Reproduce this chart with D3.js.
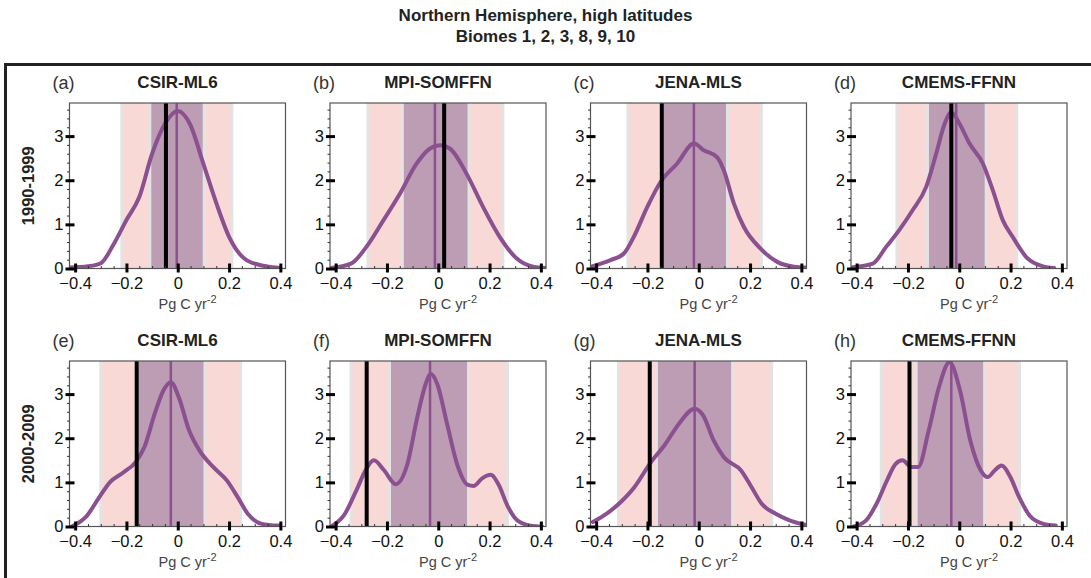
<!DOCTYPE html>
<html>
<head>
<meta charset="utf-8">
<script src="https://cdn.jsdelivr.net/npm/d3@7"></script>
<style>
  body { margin: 0; background: #fff; }
  svg { display: block; font-family: "Liberation Sans", Arial, Helvetica, sans-serif; }
</style>
</head>
<body>
<svg id="chart" width="1091" height="578"></svg>
<script>
const models = ["CSIR-ML6", "MPI-SOMFFN", "JENA-MLS", "CMEMS-FFNN"];
const periods = ["1990-1999", "2000-2009"];
const panelLetters = ["a", "b", "c", "d", "e", "f", "g", "h"];
const xTicks = [-0.4, -0.2, 0, 0.2, 0.4];
const yTicks = [0, 1, 2, 3];

// panels a..h : outer (pink) and inner (purple) ranges
const outerRange = [
  [-0.218, 0.211], [-0.274, 0.252], [-0.276, 0.244], [-0.243, 0.224],
  [-0.300, 0.245], [-0.340, 0.270], [-0.313, 0.284], [-0.304, 0.235]
];
const innerRange = [
  [-0.109, 0.103], [-0.140, 0.120], [-0.142, 0.112], [-0.124, 0.105],
  [-0.158, 0.106], [-0.190, 0.118], [-0.165, 0.132], [-0.168, 0.099]
];
// thick black line
const observed = [-0.046, 0.023, -0.144, -0.031, -0.160, -0.279, -0.191, -0.194];
// thin purple line
const medians = [-0.004, -0.013, -0.019, -0.012, -0.027, -0.032, -0.016, -0.031];

// density curves, [x, density]
const densityA = [[-0.42, 0.02], [-0.35, 0.05], [-0.30, 0.12], [-0.25, 0.55], [-0.20, 1.1], [-0.15, 1.62],
  [-0.10, 2.6], [-0.05, 3.28], [0.0, 3.57], [0.047, 3.28], [0.10, 2.37], [0.151, 1.47], [0.203, 0.68],
  [0.268, 0.19], [0.344, 0.05], [0.40, 0.01]];
const densityB = [[-0.42, 0.01], [-0.34, 0.11], [-0.28, 0.49], [-0.214, 1.09], [-0.149, 1.7], [-0.084, 2.38],
  [-0.032, 2.72], [0.007, 2.79], [0.045, 2.72], [0.11, 2.15], [0.175, 1.39], [0.24, 0.71], [0.305, 0.23],
  [0.37, 0.04], [0.42, 0.01]];
const densityC = [[-0.42, 0.04], [-0.344, 0.19], [-0.292, 0.34], [-0.253, 0.72], [-0.201, 1.39], [-0.149, 1.96],
  [-0.084, 2.38], [-0.019, 2.83], [0.02, 2.68], [0.072, 2.52], [0.098, 2.22], [0.137, 1.47], [0.176, 0.94],
  [0.241, 0.45], [0.306, 0.15], [0.371, 0.04], [0.42, 0.02]];
const densityD = [[-0.415, 0.03], [-0.337, 0.11], [-0.285, 0.49], [-0.234, 0.87], [-0.182, 1.32], [-0.129, 1.85],
  [-0.09, 2.6], [-0.057, 3.28], [-0.031, 3.54], [0.001, 3.28], [0.04, 2.83], [0.092, 2.38], [0.131, 1.77],
  [0.17, 1.09], [0.209, 0.71], [0.261, 0.26], [0.326, 0.05], [0.37, 0.01]];
const densityE = [[-0.413, 0.0], [-0.359, 0.21], [-0.305, 0.67], [-0.265, 1.0], [-0.211, 1.23], [-0.164, 1.46],
  [-0.13, 1.8], [-0.09, 2.55], [-0.056, 3.08], [-0.027, 3.27], [0.004, 2.93], [0.044, 2.18], [0.085, 1.72],
  [0.138, 1.35], [0.192, 1.04], [0.233, 0.67], [0.273, 0.29], [0.327, 0.06], [0.394, 0.02]];
const densityF = [[-0.417, 0.0], [-0.368, 0.25], [-0.316, 0.86], [-0.283, 1.28], [-0.251, 1.5], [-0.212, 1.28],
  [-0.166, 0.96], [-0.121, 1.4], [-0.082, 2.47], [-0.049, 3.23], [-0.03, 3.46], [-0.004, 3.23], [0.035, 2.31],
  [0.074, 1.4], [0.113, 0.95], [0.139, 0.92], [0.171, 1.09], [0.204, 1.17], [0.236, 0.94], [0.269, 0.48],
  [0.308, 0.14], [0.36, 0.02], [0.405, 0.0]];
const densityG = [[-0.413, 0.1], [-0.359, 0.29], [-0.305, 0.55], [-0.251, 0.89], [-0.191, 1.42], [-0.13, 1.87],
  [-0.077, 2.33], [-0.016, 2.67], [0.017, 2.52], [0.058, 1.95], [0.098, 1.57], [0.165, 1.27], [0.206, 0.89],
  [0.246, 0.51], [0.30, 0.29], [0.354, 0.14], [0.414, 0.04]];
const densityH = [[-0.411, 0.0], [-0.363, 0.14], [-0.323, 0.51], [-0.282, 1.04], [-0.248, 1.42], [-0.221, 1.5],
  [-0.187, 1.35], [-0.16, 1.35], [-0.119, 2.18], [-0.079, 3.16], [-0.038, 3.72], [0.003, 3.08], [0.043, 1.95],
  [0.084, 1.27], [0.111, 1.12], [0.138, 1.27], [0.165, 1.38], [0.199, 1.12], [0.233, 0.67], [0.274, 0.25],
  [0.328, 0.06], [0.376, 0.02]];
const densities = [densityA, densityB, densityC, densityD, densityE, densityF, densityG, densityH];

(function () {
  const svg = d3.select("#chart");

  const plotW = 216;
  const plotH = 165.5;
  const colX = (i) => 69.5 + i * 260.5;
  const rowY = (j) => 103 + j * 258;

  const purple = "#8b5090";
  const pink = "#f8d9d6";
  const mauve = "#bc9db3";
  const edge = "#e3e3e3";

  const x = d3.scaleLinear().domain([-0.422, 0.42]).range([0, plotW]);
  const y = d3.scaleLinear().domain([0, 3.75]).range([plotH, 0]);

  const line = d3
    .line()
    .x((d) => x(d[0]))
    .y((d) => y(d[1]))
    .curve(d3.curveMonotoneX);

  // title
  svg
    .append("text")
    .attr("x", 545.5)
    .attr("y", 21)
    .attr("text-anchor", "middle")
    .attr("style", "font-size: 17px; font-weight: 700; fill: #222;")
    .text("Northern Hemisphere, high latitudes");
  svg
    .append("text")
    .attr("x", 545.5)
    .attr("y", 42)
    .attr("text-anchor", "middle")
    .attr("style", "font-size: 17px; font-weight: 700; fill: #222;")
    .text("Biomes 1, 2, 3, 8, 9, 10");

  // frame
  svg
    .append("path")
    .attr("d", "M5.5,580V64.5H1091")
    .attr("fill", "none")
    .attr("stroke", "#222")
    .attr("stroke-width", 3);

  // row labels
  periods.forEach((p, j) => {
    svg
      .append("text")
      .attr("transform", `translate(34, ${rowY(j) + plotH / 2}) rotate(-90)`)
      .attr("text-anchor", "middle")
      .attr("style", "font-size: 16.5px; font-weight: 700; fill: #222;")
      .text(p);
  });

  panelLetters.forEach((letter, k) => {
    const i = k % 4;
    const j = Math.floor(k / 4);
    const g = svg
      .append("g")
      .attr("transform", `translate(${colX(i)}, ${rowY(j)})`);

    g.append("clipPath")
      .attr("id", `clip-${letter}`)
      .append("rect")
      .attr("width", plotW)
      .attr("height", plotH);

    const inner = g.append("g").attr("clip-path", `url(#clip-${letter})`);

    // pink range
    inner
      .append("rect")
      .attr("x", x(outerRange[k][0]))
      .attr("y", -5)
      .attr("width", x(outerRange[k][1]) - x(outerRange[k][0]))
      .attr("height", plotH + 10)
      .attr("fill", pink)
      .attr("stroke", edge)
      .attr("stroke-width", 3);

    // purple range
    inner
      .append("rect")
      .attr("x", x(innerRange[k][0]))
      .attr("y", -5)
      .attr("width", x(innerRange[k][1]) - x(innerRange[k][0]))
      .attr("height", plotH + 10)
      .attr("fill", mauve)
      .attr("stroke", edge)
      .attr("stroke-width", 3);

    // median
    inner
      .append("line")
      .attr("x1", x(medians[k]))
      .attr("x2", x(medians[k]))
      .attr("y1", 0)
      .attr("y2", plotH)
      .attr("stroke", purple)
      .attr("stroke-width", 2.5);

    // density
    inner
      .append("path")
      .datum(densities[k])
      .attr("d", line)
      .attr("fill", "none")
      .attr("stroke", purple)
      .attr("stroke-width", 4)
      .attr("stroke-linejoin", "round")
      .attr("stroke-linecap", "round");

    // observed
    inner
      .append("line")
      .attr("x1", x(observed[k]))
      .attr("x2", x(observed[k]))
      .attr("y1", 0)
      .attr("y2", plotH)
      .attr("stroke", "#000")
      .attr("stroke-width", 4);

    // box
    g.append("rect")
      .attr("width", plotW)
      .attr("height", plotH)
      .attr("fill", "none")
      .attr("stroke", "#555")
      .attr("stroke-width", 1.2);

    // minor ticks
    const xMinor = d3.range(-0.4, 0.4001, 0.05).filter((v) => Math.abs(Math.round(v * 20) % 4) !== 0);
    g.append("g")
      .attr("transform", `translate(0, ${plotH})`)
      .call(d3.axisBottom(x).tickValues(xMinor).tickSize(-2.5).tickFormat(""))
      .call((a) => a.select(".domain").remove())
      .selectAll("line")
      .attr("stroke", "#333");
    const yMinor = d3.range(0.2, 3.75, 0.2).filter((v) => Math.abs(v - Math.round(v)) > 0.01);
    g.append("g")
      .call(d3.axisLeft(y).tickValues(yMinor).tickSize(2.5).tickFormat(""))
      .call((a) => a.select(".domain").remove())
      .selectAll("line")
      .attr("stroke", "#333");

    // x axis
    const xa = g
      .append("g")
      .attr("transform", `translate(0, ${plotH})`)
      .call(
        d3.axisBottom(x).tickValues(xTicks).tickFormat(d3.format("")).tickSize(4).tickPadding(4.5)
      );
    xa.select(".domain").remove();
    xa.selectAll("line").attr("y1", -5).attr("stroke", "#000").attr("stroke-width", 3);
    xa.selectAll("text").attr("style", "font-size: 16.5px; fill: #111;");

    // y axis
    const ya = g
      .append("g")
      .call(d3.axisLeft(y).tickValues(yTicks).tickFormat(d3.format("d")).tickSize(4).tickPadding(2));
    ya.select(".domain").remove();
    ya.selectAll("line").attr("x1", 5).attr("stroke", "#000").attr("stroke-width", 3);
    ya.selectAll("text").attr("style", "font-size: 16.5px; fill: #111;");

    // x label
    const xl = g
      .append("text")
      .attr("x", 89)
      .attr("y", plotH + 40)
      .attr("style", "font-size: 14.5px; fill: #444;");
    xl.append("tspan").text("Pg C yr");
    xl.append("tspan").attr("dy", -6).attr("style", "font-size: 11px;").text("-2");

    // panel letter and model name
    g.append("text")
      .attr("x", -17)
      .attr("y", -14)
      .attr("style", "font-size: 18px; fill: #333;")
      .text(`(${letter})`);
    g.append("text")
      .attr("x", plotW / 2)
      .attr("y", -15)
      .attr("text-anchor", "middle")
      .attr("style", "font-size: 17px; font-weight: 700; fill: #222;")
      .text(models[i]);
  });
})();
</script>
</body>
</html>
